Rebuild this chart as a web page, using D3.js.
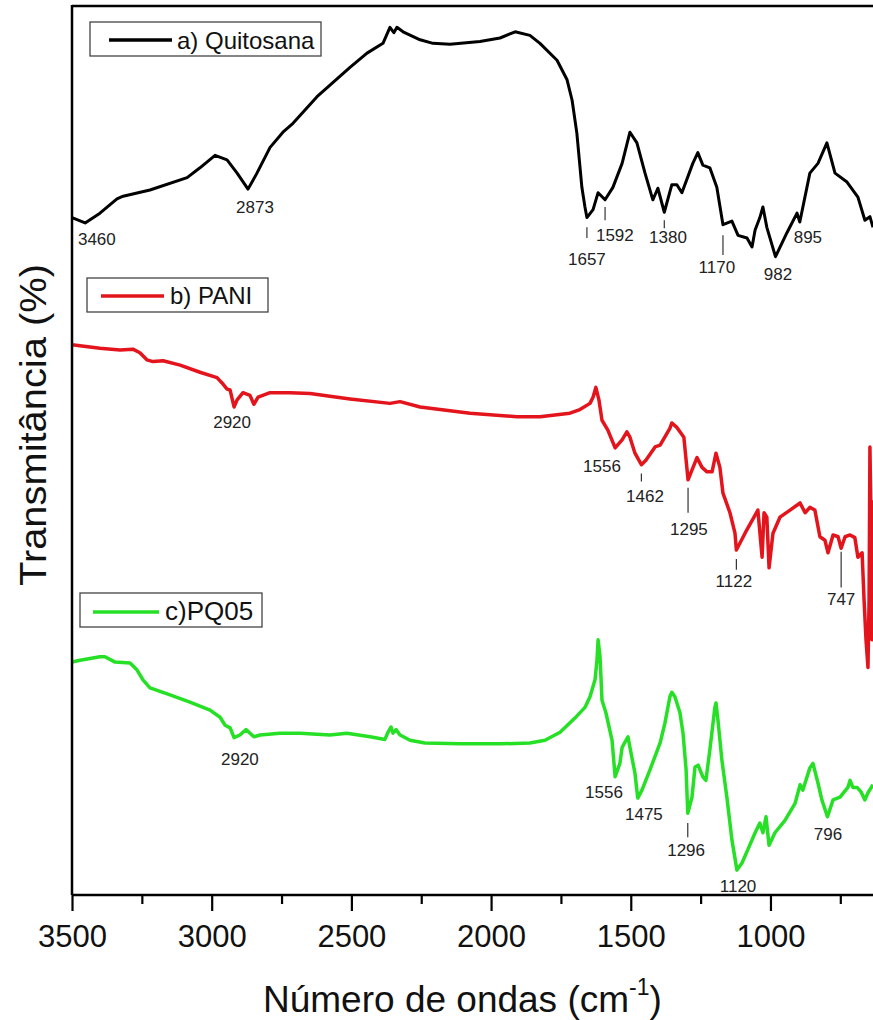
<!DOCTYPE html>
<html><head><meta charset="utf-8">
<script src="https://cdn.jsdelivr.net/npm/d3@7"></script>
<style>
html,body{margin:0;padding:0;background:#fff;}
svg{display:block;font-family:"Liberation Sans",Arial,sans-serif;}
svg text{font-family:"Liberation Sans",Arial,sans-serif;}
</style></head>
<body><svg id="c" width="873" height="1020"></svg>
<script>
// ---- data (wavenumber cm^-1, transmittance a.u.) ----
const quitosanaWn = [3500,3453,3400,3339,3317,3221,3088,3042,2988,2945,2909,2870,2838,2791,2745,2709,2623,2505,2444,2387,2362,2348,2337,2315,2254,2208,2147,2040,1968,1914,1861,1825,1764,1728,1710,1693,1675,1664,1657,1635,1617,1592,1564,1531,1503,1478,1449,1421,1403,1380,1353,1335,1317,1278,1260,1242,1217,1192,1170,1138,1116,1084,1066,1055,1038,1027,1013,982,941,905,895,859,830,798,769,726,687,662,644,633];
const quitosanaT = [76.2,75.6,76.7,78.3,78.6,79.3,80.7,81.8,83.2,82.7,81.2,79.4,81.2,84.1,85.8,86.8,89.8,93.1,94.7,95.8,97.6,97.0,97.6,97.1,96.2,95.8,95.7,96.0,96.4,97.1,96.7,95.8,93.9,91.7,89.4,85.7,79.6,77.4,76.2,77.1,79.0,78.2,79.6,82.3,85.8,84.6,81.2,78.2,79.5,76.8,79.9,79.9,79.0,82.3,83.5,82.1,81.8,79.6,75.4,75.8,74.2,73.9,72.9,74.8,76.2,77.4,75.1,71.8,74.5,76.7,75.7,81.2,82.3,84.6,81.2,80.2,78.5,75.9,76.3,75.1];

const paniWn = [3500,3400,3328,3282,3257,3232,3210,3174,3113,3042,2981,2963,2945,2934,2920,2909,2888,2863,2849,2834,2791,2720,2648,2505,2362,2326,2254,2183,2075,1907,1825,1718,1682,1646,1635,1625,1614,1603,1582,1556,1531,1514,1503,1485,1462,1446,1413,1395,1360,1353,1335,1324,1310,1295,1263,1245,1227,1209,1195,1181,1170,1145,1127,1122,1091,1045,1030,1023,1013,1005,991,966,930,894,876,859,841,823,805,794,776,758,747,733,715,698,687,672,665,658,651,647,644,640,637,633];
const paniT = [61.9,61.5,61.3,61.4,61.0,60.2,60.0,60.1,59.6,58.8,58.2,57.6,56.9,56.8,54.9,55.7,56.5,56.2,55.2,56.0,56.5,56.5,56.4,55.8,55.3,55.5,54.9,54.6,54.2,53.8,53.8,54.2,54.6,55.3,56.0,57.1,55.7,53.4,52.3,50.3,51.2,52.1,51.5,49.7,48.4,48.9,50.4,50.6,52.5,53.1,52.6,52.1,51.5,46.7,49.2,48.1,47.6,47.6,49.7,48.1,45.2,43.0,40.7,38.8,40.7,43.3,38.0,43.0,42.5,36.8,40.7,42.5,43.3,44.1,43.0,43.6,43.3,40.3,39.9,38.5,40.5,40.3,39.0,40.3,40.5,40.2,38.0,38.5,33.2,28.7,25.6,33.2,50.4,42.2,28.7,44.4];

const pq05Wn = [3500,3471,3400,3382,3346,3292,3267,3246,3221,3149,3078,3006,2970,2952,2934,2920,2899,2877,2863,2849,2827,2756,2684,2577,2516,2433,2380,2369,2358,2351,2340,2326,2290,2237,2111,1968,1861,1807,1753,1700,1664,1646,1628,1621,1617,1610,1603,1589,1567,1556,1539,1531,1510,1503,1485,1475,1460,1431,1395,1378,1360,1353,1342,1324,1313,1302,1296,1281,1270,1259,1242,1231,1217,1199,1195,1188,1174,1156,1138,1120,1102,1081,1055,1038,1027,1016,1005,984,948,912,894,884,859,848,830,816,796,776,751,723,715,705,690,676,662,651,633];
const pq05T = [26.2,26.4,26.8,26.8,26.2,26.1,25.3,24.2,23.3,22.5,21.7,20.8,20.0,19.1,18.8,17.7,18.0,18.6,18.2,17.8,18.0,18.2,18.2,18.0,18.2,17.8,17.5,18.3,18.9,18.2,18.6,18.0,17.4,17.1,17.0,17.0,17.1,17.4,18.3,19.9,21.1,22.3,24.2,26.4,28.7,26.8,21.9,20.5,17.4,13.3,14.8,16.6,17.8,16.6,13.7,10.9,11.8,14.1,17.1,19.3,22.3,22.8,22.3,20.5,18.2,14.1,9.2,11.0,14.4,14.6,13.3,12.9,16.3,21.1,21.6,19.7,15.2,11.0,6.2,2.8,3.6,5.1,7.0,8.1,7.0,8.8,5.6,7.0,8.4,10.3,12.4,11.8,14.3,14.8,12.6,10.7,8.8,10.7,11.0,12.1,12.9,12.1,12.1,11.6,10.7,11.5,12.4];

const seriesNames = ["a) Quitosana", "b) PANI", "c)PQ05"];
const seriesColors = ["#000000", "#e4141c", "#26e026"];

const majorTicks = [3500,3000,2500,2000,1500,1000];
const minorTicks = [3250,2750,2250,1750,1250,750];

// peak annotations: label text, label x (wn), label baseline (T), marker wn, marker from/to (T)
const peakLabels = ["3460","2873","1657","1592","1380","1170","982","895",
                    "2920","1556","1462","1295","1122","747",
                    "2920","1556","1475","1296","1120","796"];
const peakLabelWn = [3411,2845,1657,1557,1367,1192,973,866,
                     2927,1603,1449,1292,1131,747,
                     2899,1596,1453,1302,1116,794];
const peakLabelT = [73.1,76.7,70.9,73.6,73.3,70.0,69.2,73.3,
                    52.5,47.6,44.2,40.5,34.6,32.6,
                    14.6,10.9,8.4,4.4,0.3,6.2];
const markWn   = [null,null,1657,1592,1380,1170,null,null,
                  null,null,1462,1295,1122,747,
                  null,null,null,1296,null,null];
const markFrom = [null,null,75.1,77.4,75.9,74.2,null,null,
                  null,null,47.4,45.8,37.8,38.6,
                  null,null,null,8.1,null,null];
const markTo   = [null,null,73.9,75.9,75.0,72.0,null,null,
                  null,null,46.5,43.0,36.6,34.6,
                  null,null,null,6.5,null,null];

// ---- drawing ----
const svg = d3.select("#c");
const L = 72, R = 873, T = 6, B = 895;
const x = d3.scaleLinear().domain([3500, 633]).range([L, R]);
const y = d3.scaleLinear().domain([0, 100]).range([B, T]);

const series = [
  quitosanaWn.map((w,i)=>({w, t: quitosanaT[i]})),
  paniWn.map((w,i)=>({w, t: paniT[i]})),
  pq05Wn.map((w,i)=>({w, t: pq05T[i]}))
];
const line = d3.line().x(d=>x(d.w)).y(d=>y(d.t));
const widths = [3, 3.5, 3.5];
series.forEach((s,i)=>{
  svg.append("path").datum(s).attr("d", line)
    .attr("fill","none").attr("stroke", seriesColors[i])
    .attr("stroke-width", widths[i]).attr("stroke-linejoin","round");
});

// annotations
const ann = svg.append("g").attr("font-size", 17).attr("fill","#222").attr("text-anchor","middle");
peakLabels.forEach((lab,i)=>{
  ann.append("text").attr("x", x(peakLabelWn[i])).attr("y", y(peakLabelT[i])).text(lab);
  if (markWn[i] !== null) {
    svg.append("line").attr("x1", x(markWn[i])).attr("x2", x(markWn[i]))
      .attr("y1", y(markFrom[i])).attr("y2", y(markTo[i]))
      .attr("stroke","#333").attr("stroke-width",1.2);
  }
});

// frame: top line and left axis
svg.append("line").attr("x1",L).attr("x2",R).attr("y1",T).attr("y2",T).attr("stroke","#000").attr("stroke-width",2.5);
svg.append("line").attr("x1",L).attr("x2",L).attr("y1",T-1).attr("y2",B).attr("stroke","#000").attr("stroke-width",2.5);

// bottom axis
const ax = svg.append("g").attr("transform",`translate(0,${B})`)
  .call(d3.axisBottom(x).tickValues(majorTicks).tickSize(16).tickPadding(14).tickFormat(d3.format("d")));
ax.attr("font-family",null);
ax.select(".domain").attr("stroke-width",2.5).attr("d",`M${L},0H${R}`);
ax.selectAll(".tick line").attr("stroke-width",2.2);
ax.selectAll(".tick text").attr("font-size",31).attr("fill","#111");
const axm = svg.append("g").attr("transform",`translate(0,${B})`)
  .call(d3.axisBottom(x).tickValues(minorTicks).tickSize(9).tickFormat(""));
axm.select(".domain").remove();
axm.selectAll(".tick line").attr("stroke-width",2.2);

// axis titles
svg.append("text").attr("transform","translate(46,425) rotate(-90)")
  .attr("text-anchor","middle").attr("font-size",37).attr("fill","#111")
  .attr("textLength",322).attr("lengthAdjust","spacingAndGlyphs")
  .text("Transmitância (%)");
const xt = svg.append("text").attr("x",263).attr("y",1012).attr("font-size",37).attr("fill","#111");
xt.append("tspan").text("Número de ondas (cm");
xt.append("tspan").attr("font-size",23).attr("dy",-17).text("-1");
xt.append("tspan").attr("dy",17).text(")");

// legends
const legends = [
  {box:[90,22,231,34], line:[109,172,40], tx:177, ty:49, fs:24},
  {box:[87,278,181,34], line:[101,164,296], tx:170, ty:304, fs:24},
  {box:[80,593,182,34], line:[93,159,612], tx:165, ty:620, fs:26}
];
legends.forEach((lg,i)=>{
  const g = svg.append("g");
  g.append("rect").attr("x",lg.box[0]).attr("y",lg.box[1]).attr("width",lg.box[2]).attr("height",lg.box[3])
    .attr("fill","#fff").attr("stroke","#444").attr("stroke-width",1.3);
  g.append("line").attr("x1",lg.line[0]).attr("x2",lg.line[1]).attr("y1",lg.line[2]).attr("y2",lg.line[2])
    .attr("stroke",seriesColors[i]).attr("stroke-width",3.5);
  g.append("text").attr("x",lg.tx).attr("y",lg.ty).attr("font-size",lg.fs).attr("fill","#111").text(seriesNames[i]);
});
</script></body></html>
